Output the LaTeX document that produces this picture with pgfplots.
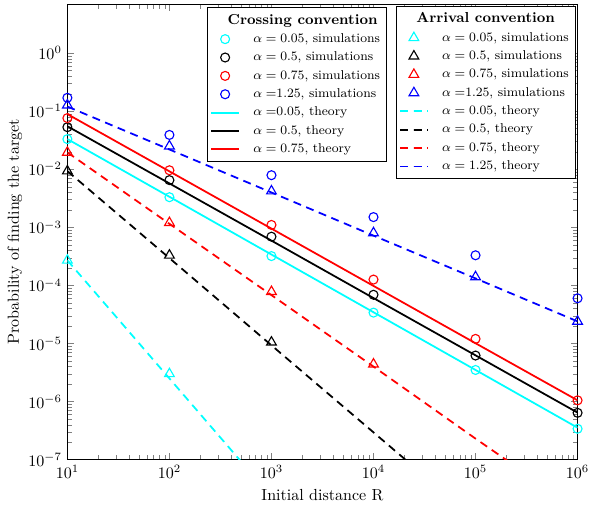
\documentclass[border=0pt]{standalone}
\usepackage{pgfplots}
\pgfplotsset{compat=1.18}
\definecolor{mycyan}{rgb}{0,1,1}
\pgfplotsset{
  every axis legend/.append style={
    font=\footnotesize, draw=black, fill=white, inner sep=2pt,
    row sep=0.4pt, column sep=6.5pt,
  },
}
\newcommand{\legtitle}[1]{\hspace{-16pt}\small\textbf{#1}}
\begin{document}
\begin{tikzpicture}
\begin{axis}[
    scale only axis,
    width=318pt, height=284pt,
    xmode=log, ymode=log,
    xmin=10, xmax=1e6,
    ymin=1e-7, ymax=7,
    xtick={10,100,1000,10000,100000,1000000},
    ytick={1e-7,1e-6,1e-5,1e-4,1e-3,1e-2,1e-1,1},
    legend cell align=left,
    legend style={at={(0.626,0.993)}, anchor=north east},
    xlabel={Initial distance R},
    ylabel={Probability of finding the target},
    ylabel style={at={(axis description cs:-0.103,0.5)}, anchor=center},
  ]
  \addlegendimage{empty legend}
  \addlegendentry{\legtitle{Crossing convention}}

  \addplot[only marks, mark size=2.8pt, line width=0.7pt, mycyan, mark=o] coordinates {
    (10,0.033) (100,3.3e-3) (1000,3.2e-4) (1e4,3.4e-5) (1e5,3.5e-6) (1e6,3.4e-7)};
  \addlegendentry{$\alpha = 0.05$, simulations}
  \addplot[only marks, mark size=2.8pt, line width=0.7pt, black, mark=o] coordinates {
    (10,0.053) (100,6.5e-3) (1000,6.9e-4) (1e4,6.9e-5) (1e5,6.2e-6) (1e6,6.4e-7)};
  \addlegendentry{$\alpha = 0.5$, simulations}
  \addplot[only marks, mark size=2.8pt, line width=0.7pt, red, mark=o] coordinates {
    (10,0.076) (100,9.6e-3) (1000,1.1e-3) (1e4,1.26e-4) (1e5,1.2e-5) (1e6,1.05e-6)};
  \addlegendentry{$\alpha = 0.75$, simulations}
  \addplot[only marks, mark size=2.8pt, line width=0.7pt, blue, mark=o] coordinates {
    (10,0.17) (100,0.039) (1000,7.9e-3) (1e4,1.5e-3) (1e5,3.3e-4) (1e6,6e-5)};
  \addlegendentry{$\alpha =$1.25, simulations}

  \addplot[mycyan, line width=1.1pt, no markers] coordinates {
    (10,0.0331) (100,3.36e-3) (1000,3.4e-4) (1e4,3.45e-5) (1e5,3.5e-6) (1e6,3.55e-7)};
  \addlegendentry{$\alpha =$0.05, theory}
  \addplot[black, line width=1.1pt, no markers] coordinates {
    (10,0.055) (100,5.7e-3) (1000,5.9e-4) (1e4,6.05e-5) (1e5,6.25e-6) (1e6,6.45e-7)};
  \addlegendentry{$\alpha = 0.5$, theory}
  \addplot[red, line width=1.1pt, no markers] coordinates {
    (10,0.089) (100,9.2e-3) (1000,9.5e-4) (1e4,9.8e-5) (1e5,1.01e-5) (1e6,1.05e-6)};
  \addlegendentry{$\alpha = 0.75$, theory}
\end{axis}

\begin{axis}[
    scale only axis,
    width=318pt, height=284pt,
    xmode=log, ymode=log,
    xmin=10, xmax=1e6,
    ymin=1e-7, ymax=7,
    hide axis,
    legend cell align=left,
    legend style={at={(0.996,0.996)}, anchor=north east},
  ]
  \addlegendimage{empty legend}
  \addlegendentry{\legtitle{Arrival convention}}

  \addplot[only marks, mark size=3.5pt, line width=0.7pt, mycyan, mark=triangle] coordinates {
    (10,2.7e-4) (100,3e-6)};
  \addlegendentry{$\alpha = 0.05$, simulations}
  \addplot[only marks, mark size=3.5pt, line width=0.7pt, black, mark=triangle] coordinates {
    (10,9.3e-3) (100,3.3e-4) (1000,1.05e-5)};
  \addlegendentry{$\alpha = 0.5$, simulations}
  \addplot[only marks, mark size=3.5pt, line width=0.7pt, red, mark=triangle] coordinates {
    (10,0.0195) (100,1.2e-3) (1000,7.8e-5) (1e4,4.4e-6)};
  \addlegendentry{$\alpha = 0.75$, simulations}
  \addplot[only marks, mark size=3.5pt, line width=0.7pt, blue, mark=triangle] coordinates {
    (10,0.127) (100,0.025) (1000,4.2e-3) (1e4,8e-4) (1e5,1.4e-4) (1e6,2.4e-5)};
  \addlegendentry{$\alpha =$1.25, simulations}

  \addplot[mycyan, line width=1.1pt, dash pattern=on 5pt off 3.5pt, no markers] coordinates {
    (10,2.7e-4) (100,2.5e-6) (1000,2.3e-8)};
  \addlegendentry{$\alpha = 0.05$, theory}
  \addplot[black, line width=1.1pt, dash pattern=on 5pt off 3.5pt, no markers] coordinates {
    (10,9.3e-3) (100,2.95e-4) (1000,9.3e-6) (1e4,2.95e-7) (1e5,9.3e-9)};
  \addlegendentry{$\alpha = 0.5$, theory}
  \addplot[red, line width=1.1pt, dash pattern=on 5pt off 3.5pt, no markers] coordinates {
    (10,0.0195) (100,1.15e-3) (1000,6.8e-5) (1e4,4e-6) (1e5,2.3e-7) (1e6,1.4e-8)};
  \addlegendentry{$\alpha = 0.75$, theory}
  \addplot[blue, line width=1.1pt, dash pattern=on 5pt off 3.5pt, no markers] coordinates {
    (10,0.12) (100,0.0219) (1000,3.98e-3) (1e4,7.2e-4) (1e5,1.32e-4) (1e6,2.4e-5)};
  \addlegendentry{$\alpha = 1.25$, theory}
\end{axis}
\pgfresetboundingbox
\path[use as bounding box] ([xshift=-42pt,yshift=-33.6pt]current axis.south west)
  rectangle ([xshift=9pt,yshift=2.5pt]current axis.north east);
\end{tikzpicture}
\end{document}
